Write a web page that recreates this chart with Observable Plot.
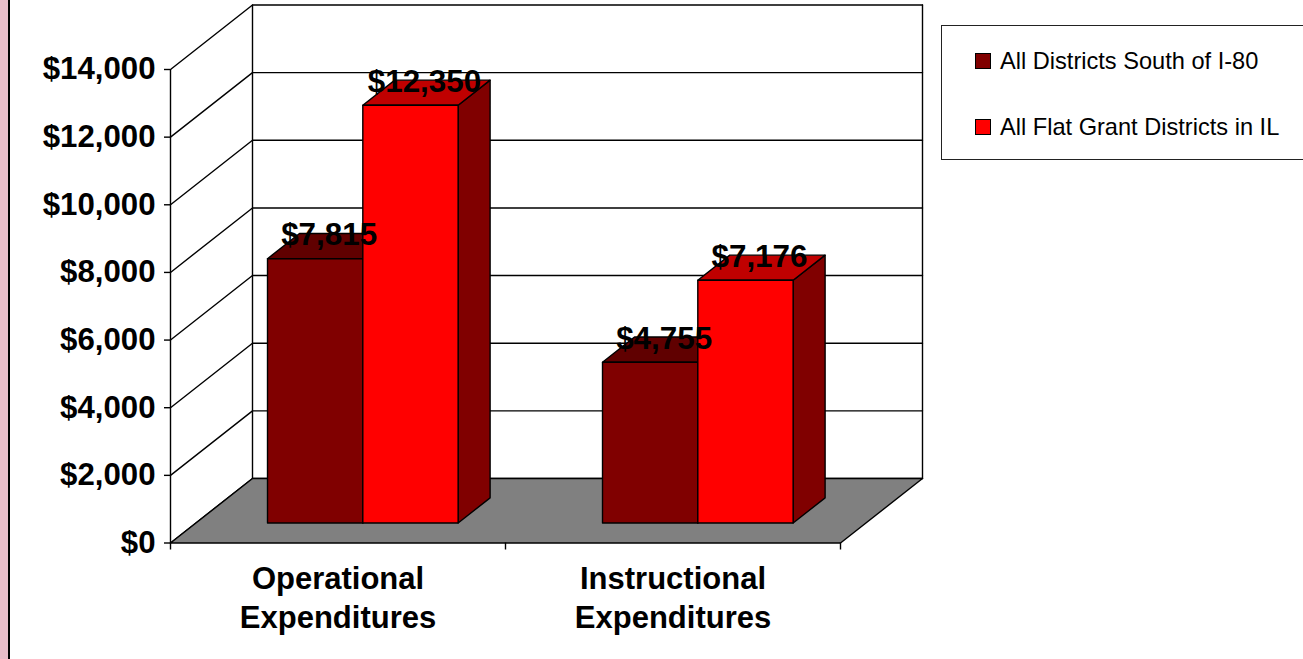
<!DOCTYPE html>
<html>
<head>
<meta charset="utf-8">
<script src="https://cdn.jsdelivr.net/npm/d3@7"></script>
<script src="https://cdn.jsdelivr.net/npm/@observablehq/plot@0.6"></script>
<style>
html,body{margin:0;padding:0;background:#fff;width:1303px;height:659px;overflow:hidden;font-family:"Liberation Sans",Arial,sans-serif}
#band{position:absolute;left:0;top:0;width:8px;height:659px;background:#e8bcc8;border-right:2px solid #000}
#chart{position:absolute;left:0;top:0}
#legend{position:absolute;left:941px;top:25px;width:370px;height:133px;border:1.5px solid #222;background:#fff;box-sizing:content-box}
.item{position:absolute;left:33px;font-size:23.6px;line-height:26px;color:#000;white-space:nowrap;padding-left:25px}
.swatch{position:absolute;left:0;top:5px;width:14px;height:14px;border:1px solid #000}
</style>
</head>
<body>
<div id="band"></div>
<div id="chart"></div>
<div id="legend"></div>
<script>
const categories = ["Operational\nExpenditures", "Instructional\nExpenditures"];
const seriesNames = ["All Districts South of I-80", "All Flat Grant Districts in IL"];
const southValues = [7815, 4755];
const flatValues = [12350, 7176];
const yTicks = [0, 2000, 4000, 6000, 8000, 10000, 12000, 14000];

const frontColors = ["#800000", "#ff0000"];
const topColors = ["#600000", "#c00000"];
const sideColors = ["#600000", "#800000"];

// Oblique projection: depth d (0 front .. 1 back) shifts in category and value units
const depthX = 82 / 335, depthY = 1907;
const P = (cat, val, d) => ({x: cat + d * depthX, y: val + d * depthY});
const nCat = categories.length;
const maxV = yTicks[yTicks.length - 1];

const faces = [];
const face = (id, color, pts) => pts.forEach(p => faces.push({id, color, ...p}));
face("floor", "#808080", [P(0,0,0), P(nCat,0,0), P(nCat,0,1), P(0,0,1)]);

const groupInset = 0.2137, barW = 0.2845, d0 = 0.31, d1 = 0.70;
const labels = [];
categories.forEach((c, i) => {
  [southValues[i], flatValues[i]].forEach((v, s) => {
    const a = i + groupInset + s * barW, b = a + barW, id = `${i}-${s}`;
    face(id + "side", sideColors[s], [P(b,0,d0), P(b,0,d1), P(b,v,d1), P(b,v,d0)]);
    face(id + "top", topColors[s], [P(a,v,d0), P(b,v,d0), P(b,v,d1), P(a,v,d1)]);
    face(id + "front", frontColors[s], [P(a,0,d0), P(b,0,d0), P(b,v,d0), P(a,v,d0)]);
    labels.push({...P((a + b) / 2, v, (d0 + d1) / 2), text: d3.format("$,")(v)});
  });
});

const wallLines = [];
yTicks.forEach(v => {
  [P(0,v,0), P(0,v,1), P(nCat,v,1)].forEach(p => wallLines.push({id: v, ...p}));
});
[[P(0,0,1), P(0,maxV,1)], [P(nCat,0,1), P(nCat,maxV,1)]].forEach((pts, k) =>
  pts.forEach(p => wallLines.push({id: "v" + k, ...p})));

const chart = Plot.plot({
  width: 1303, height: 659,
  marginLeft: 170, marginRight: 463, marginTop: 69, marginBottom: 116.5,
  x: {domain: [0, nCat]},
  y: {domain: [0, maxV]},
  color: {type: "identity"},
  style: {fontFamily: "'Liberation Sans', Arial, sans-serif", background: "transparent", overflow: "visible"},
  marks: [
    Plot.line(wallLines, {x: "x", y: "y", z: "id", stroke: "#000", strokeWidth: 1.4}),
    Plot.line(faces, {x: "x", y: "y", z: "id", fill: "color", stroke: "#000", strokeWidth: 1.4, curve: "linear-closed"}),
    Plot.ruleX([0], {y1: 0, y2: maxV, stroke: "#000", strokeWidth: 1.4}),
    Plot.axisY({ticks: yTicks, tickFormat: d3.format("$,"), tickSize: 6, tickPadding: 9, label: null,
      fontSize: 31.2, fontWeight: "bold", strokeWidth: 1.4}),
    Plot.axisX({ticks: d3.range(nCat + 1), tickFormat: () => "", tickSize: 7, label: null, strokeWidth: 1.4}),
    Plot.text(categories, {x: (d, i) => i + 0.5, y: () => 0, text: d => d, dy: 53, lineAnchor: "middle",
      lineHeight: 1.25, fontSize: 31, fontWeight: "bold", fill: "#000"}),
    Plot.text(labels, {x: "x", y: "y", text: "text", dx: -2, dy: -11, fontSize: 31.4, fontWeight: "bold", fill: "#000"})
  ]
});
document.getElementById("chart").appendChild(chart);

const legend = document.getElementById("legend");
seriesNames.forEach((n, i) => {
  const it = document.createElement("div");
  it.className = "item";
  it.style.top = (21.5 + i * 66.5) + "px";
  it.textContent = n;
  const sw = document.createElement("div");
  sw.className = "swatch";
  sw.style.background = frontColors[i];
  it.appendChild(sw);
  legend.appendChild(it);
});
</script>
</body>
</html>
